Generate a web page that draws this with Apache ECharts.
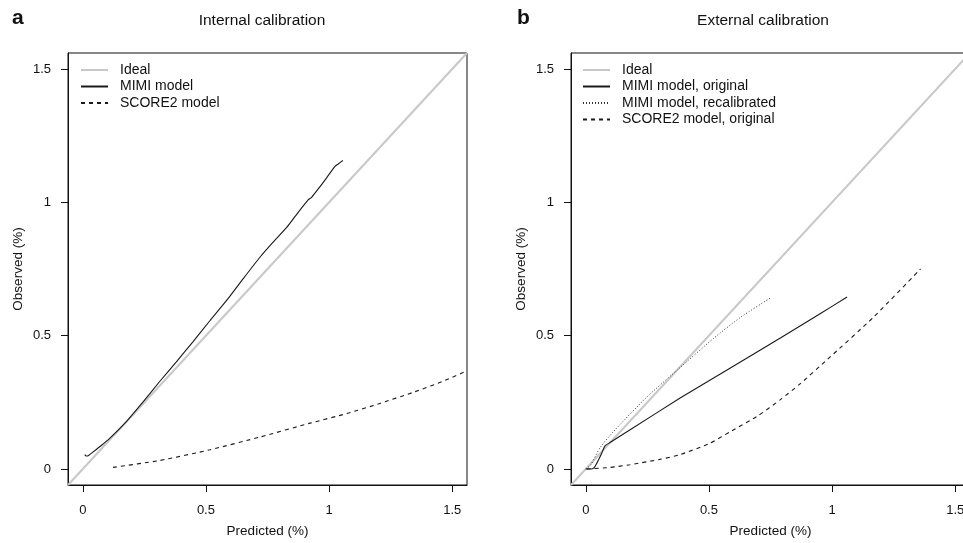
<!DOCTYPE html>
<html>
<head>
<meta charset="utf-8">
<script src="https://cdn.jsdelivr.net/npm/echarts@6/dist/echarts.min.js"></script>
<style>
html,body{margin:0;padding:0;background:#fff;}
#chart{width:963px;height:543px;}
</style>
</head>
<body>
<div id="chart"></div>
<script>
// ---- data ----
const axisTicks = [0, 0.5, 1, 1.5];
const axisMin = -0.06;
const axisMax = 1.56;

const panelLetters = ['a', 'b'];
const panelTitles = ['Internal calibration', 'External calibration'];
const xAxisTitle = 'Predicted (%)';
const yAxisTitle = 'Observed (%)';

const legendInternal = ['Ideal', 'MIMI model', 'SCORE2 model'];
const legendExternal = ['Ideal', 'MIMI model, original', 'MIMI model, recalibrated', 'SCORE2 model, original'];

const idealLine = [[-0.06, -0.06], [1.56, 1.56]];

const internalMimi = [
  [0.008, 0.054], [0.014, 0.049], [0.022, 0.050], [0.042, 0.064], [0.075, 0.088],
  [0.110, 0.116], [0.178, 0.179], [0.245, 0.252], [0.313, 0.329], [0.380, 0.402],
  [0.448, 0.478], [0.516, 0.556], [0.584, 0.632], [0.650, 0.712], [0.720, 0.795],
  [0.770, 0.848], [0.828, 0.906], [0.870, 0.957], [0.916, 1.010], [0.929, 1.019],
  [0.960, 1.055], [0.990, 1.092], [1.024, 1.135], [1.036, 1.143], [1.056, 1.157]
];
const internalScore2 = [
  [0.123, 0.006], [0.313, 0.032], [0.516, 0.072], [0.720, 0.120], [0.923, 0.172],
  [1.072, 0.208], [1.200, 0.244], [1.343, 0.288], [1.460, 0.328], [1.560, 0.368]
];

const externalMimiOriginal = [
  [0.000, 0.000], [0.024, 0.000], [0.035, 0.006], [0.045, 0.022], [0.055, 0.040],
  [0.065, 0.060], [0.078, 0.087], [0.100, 0.100], [0.180, 0.147], [0.383, 0.266],
  [0.587, 0.379], [0.790, 0.491], [0.953, 0.583], [1.061, 0.645]
];
const externalMimiRecal = [
  [0.000, 0.000], [0.020, 0.015], [0.058, 0.080], [0.112, 0.140], [0.248, 0.270],
  [0.370, 0.370], [0.519, 0.490], [0.630, 0.570], [0.749, 0.641]
];
const externalScore2 = [
  [0.004, 0.000], [0.100, 0.006], [0.180, 0.016], [0.300, 0.036], [0.383, 0.054],
  [0.500, 0.095], [0.587, 0.140], [0.700, 0.200], [0.790, 0.260], [0.871, 0.320],
  [0.980, 0.410], [1.169, 0.570], [1.359, 0.750]
];

// ---- chart ----
const FONT = 'Liberation Sans, Arial, Helvetica, sans-serif';
const INK = '#111';
const grids = [
  { left: 68, top: 53, width: 399, height: 432 },
  { left: 571, top: 53, width: 399, height: 432 }
];

function makeX(i) {
  return {
    type: 'value', gridIndex: i, min: axisMin, max: axisMax,
    name: xAxisTitle, nameLocation: 'middle', nameGap: 39,
    nameTextStyle: { fontFamily: FONT, fontSize: 13.5, color: INK },
    axisLine: { show: true, onZero: false, lineStyle: { color: INK, width: 1 } },
    axisTick: { show: true, inside: false, length: 7, customValues: axisTicks, lineStyle: { color: INK, width: 1 } },
    axisLabel: { show: true, margin: 19, customValues: axisTicks, fontFamily: FONT, fontSize: 13, color: INK, formatter: v => String(v) },
    splitLine: { show: false }
  };
}
function makeY(i) {
  return {
    type: 'value', gridIndex: i, min: axisMin, max: axisMax,
    name: yAxisTitle, nameLocation: 'middle', nameGap: 43,
    nameTextStyle: { fontFamily: FONT, fontSize: 13.5, color: INK },
    axisLine: { show: true, onZero: false, lineStyle: { color: INK, width: 1 } },
    axisTick: { show: true, inside: false, length: 7, customValues: axisTicks, lineStyle: { color: INK, width: 1 } },
    axisLabel: { show: true, margin: 17, customValues: axisTicks, fontFamily: FONT, fontSize: 13, color: INK, formatter: v => String(v) },
    splitLine: { show: false }
  };
}
function lineSeries(name, data, gi, style) {
  return {
    name: name, type: 'line', xAxisIndex: gi, yAxisIndex: gi,
    data: data, symbol: 'none', showSymbol: false, smooth: 0.2,
    clip: true, silent: true, animation: false,
    itemStyle: { color: style.color },
    lineStyle: style
  };
}
const idealStyle = { color: '#c8c8c8', width: 2, type: 'solid' };
const solidStyle = { color: '#1a1a1a', width: 1.1, type: 'solid' };
const dashStyle = { color: '#1a1a1a', width: 1.1, type: [4, 4] };
const dotStyle = { color: '#333', width: 1, type: [1, 2] };

const legendCommon = {
  orient: 'vertical', padding: 0, itemWidth: 27, itemHeight: 10, itemGap: 2.5,
  selectedMode: false,
  itemStyle: { opacity: 0 },
  textStyle: { fontFamily: FONT, fontSize: 14, lineHeight: 14, color: INK, padding: [0, 0, 0, 7] }
};

const option = {
  backgroundColor: '#fff',
  animation: false,
  title: [
    { text: panelLetters[0], left: 12, top: 8, textStyle: { fontFamily: FONT, fontSize: 21, fontWeight: 'bold', color: INK }, padding: 0 },
    { text: panelTitles[0], left: 262, top: 13, textAlign: 'center', textStyle: { fontFamily: FONT, fontSize: 15.5, fontWeight: 'normal', color: INK }, padding: 0 },
    { text: panelLetters[1], left: 517, top: 8, textStyle: { fontFamily: FONT, fontSize: 21, fontWeight: 'bold', color: INK }, padding: 0 },
    { text: panelTitles[1], left: 763, top: 13, textAlign: 'center', textStyle: { fontFamily: FONT, fontSize: 15.5, fontWeight: 'normal', color: INK }, padding: 0 }
  ],
  legend: [
    Object.assign({}, legendCommon, { left: 80, top: 63, data: legendInternal }),
    Object.assign({}, legendCommon, { left: 582, top: 63, data: legendExternal })
  ],
  grid: grids.map(g => Object.assign({ show: true, borderColor: INK, borderWidth: 1, backgroundColor: 'transparent', containLabel: false, outerBoundsMode: 'none' }, g)),
  xAxis: [makeX(0), makeX(1)],
  yAxis: [makeY(0), makeY(1)],
  series: [
    lineSeries(legendInternal[0], idealLine, 0, idealStyle),
    lineSeries(legendInternal[1], internalMimi, 0, solidStyle),
    lineSeries(legendInternal[2], internalScore2, 0, dashStyle),
    lineSeries(legendExternal[0], idealLine, 1, idealStyle),
    lineSeries(legendExternal[1], externalMimiOriginal, 1, solidStyle),
    lineSeries(legendExternal[2], externalMimiRecal, 1, dotStyle),
    lineSeries(legendExternal[3], externalScore2, 1, dashStyle)
  ]
};

const chart = echarts.init(document.getElementById('chart'), null, { renderer: 'canvas' });
chart.setOption(option);
</script>
</body>
</html>
